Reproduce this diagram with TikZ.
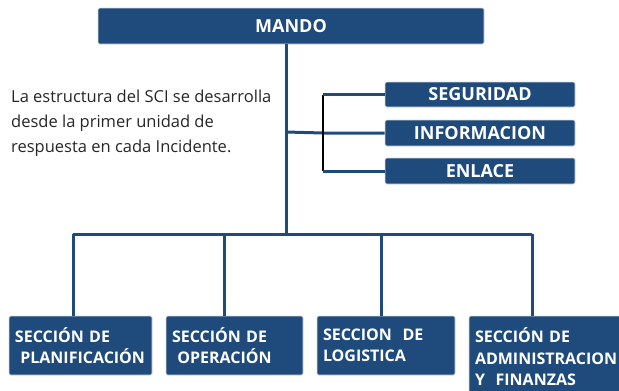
\documentclass[tikz,border=0pt]{standalone}
\usepackage{fontspec}
\setmainfont{Open Sans}
\usetikzlibrary{positioning}
\definecolor{sciblue}{HTML}{1F4A7C}
\tikzset{conn/.style={sciblue,line width=3pt},
  unitbox/.style={draw=black!15,line width=0.6pt,fill=sciblue,rounded corners=1.5pt,
    text=white,font=\bfseries\fontsize{18}{20}\selectfont,inner sep=0pt},
  sectbox/.style={unitbox,font=\bfseries\fontsize{16}{21.5}\selectfont,
    execute at begin node={\hyphenpenalty=10000\relax},
    align=left,inner xsep=6pt,text width=#1}}

\begin{document}
\begin{tikzpicture}[x=1pt,y=-1pt]
  \useasboundingbox (0,0) rectangle (619,391);
  % mando y unidades de staff
  \node[unitbox,minimum width=386pt,minimum height=36pt] (mando) at (291,26) {MANDO};
  \node[unitbox,minimum width=190pt,minimum height=25pt] (seguridad) at (480,94.5) {SEGURIDAD};
  \node[unitbox,minimum width=190pt,minimum height=26pt] (informacion) at (480,133) {INFORMACION};
  \node[unitbox,minimum width=190pt,minimum height=26pt] (enlace) at (480,171) {ENLACE};
  \node[anchor=north west,align=left,inner sep=0pt,text=black!85,
    font=\fontsize{16.5}{25}\selectfont] (texto) at (11,90)
    {La estructura del SCI se desarrolla\\desde la primer unidad de\\respuesta en cada Incidente.};
  % secciones
  \node[sectbox=131pt,minimum width=143pt,minimum height=59pt] (planificacion) at (80.5,345.5)
    {SECCIÓN DE\\\ PLANIFICACIÓN};
  \node[sectbox=125pt,minimum width=137pt,minimum height=59pt] (operacion) at (234.5,345.5)
    {SECCIÓN DE\\\ OPERACIÓN};
  \node[sectbox=126pt,minimum width=138pt,minimum height=59pt] (logistica) at (386,345.5)
    {SECCION\ \ DE\\LOGISTICA};
  \node[sectbox=144pt,minimum width=156pt,minimum height=82pt] (admin) at (547,357)
    {SECCIÓN DE\\ADMINISTRACION\\Y\ \ FINANZAS};
  % lineas
  \coordinate (tronco) at (286,234);
  \coordinate (staff) at (323,132);
  \draw[conn] (mando.south -| tronco) -- (tronco);
  \draw[conn] (tronco |- staff) -- (staff |- informacion.west) -- (informacion.west);
  \draw[black,line width=2pt] (staff |- seguridad.west) -- (staff |- enlace.west);
  \draw[conn] (staff |- seguridad.west) -- (seguridad.west);
  \draw[conn] (staff |- enlace.west) -- (enlace.west);
  \coordinate (b1) at (73,234);
  \coordinate (b2) at (224,234);
  \coordinate (b3) at (381,234);
  \coordinate (b4) at (532,234);
  \draw[conn] (b1) -- (b4);
  \draw[conn] (b1) -- (b1 |- planificacion.north);
  \draw[conn] (b2) -- (b2 |- operacion.north);
  \draw[conn] (b3) -- (b3 |- logistica.north);
  \draw[conn] (b4) -- (b4 |- admin.north);
\end{tikzpicture}
\end{document}
